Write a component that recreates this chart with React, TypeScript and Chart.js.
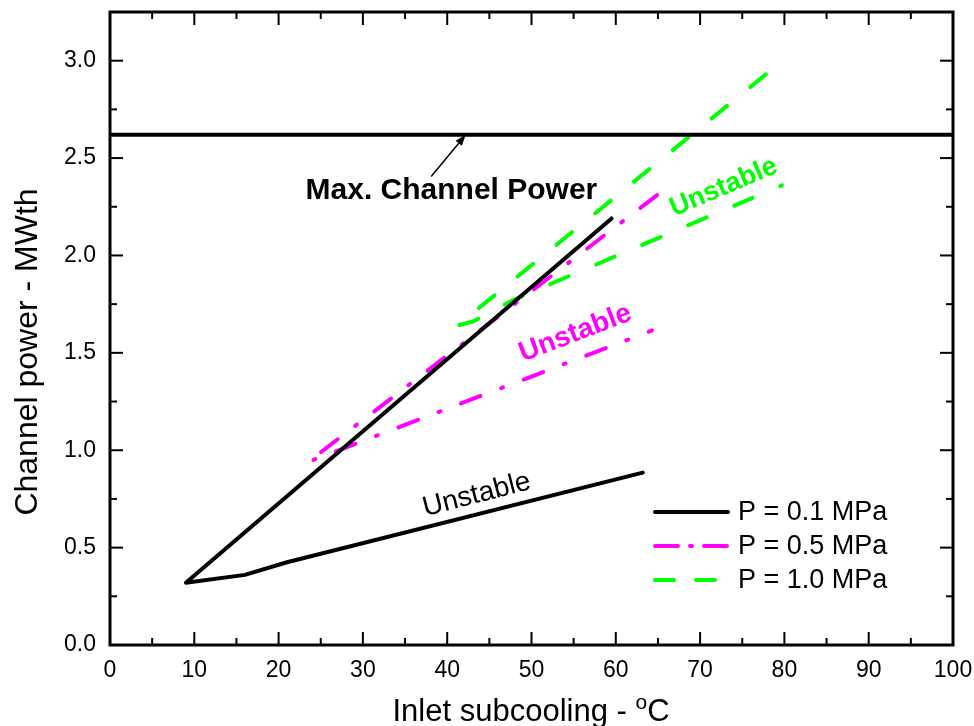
import { useEffect, useRef } from "react";
import { Chart, registerables } from "chart.js";

Chart.register(...registerables);

const FONT = '"Liberation Sans", Arial, Helvetica, sans-serif';

const BLACK = "#000000";
const MAGENTA = "#ff00ff";
const GREEN = "#00ff00";

// Maximum channel power limit (horizontal line)
const maxPowerX = [0, 100];
const maxPowerY = [2.62, 2.62];

// Stability boundaries, inlet subcooling (°C) vs channel power (MWth)
const p01X = [59.5, 9, 16, 21, 63.2];
const p01Y = [2.19, 0.32, 0.36, 0.425, 0.885];

const p05X = [64.9, 23.5, 64.3];
const p05Y = [2.31, 0.94, 1.615];

const p10X = [77.8, 41.2, 43, 48, 79.7];
const p10Y = [2.93, 1.64, 1.66, 1.775, 2.36];

const xMajorTicks = [0, 10, 20, 30, 40, 50, 60, 70, 80, 90, 100];
const xMinorTicks = [5, 15, 25, 35, 45, 55, 65, 75, 85, 95];
const yMajorTicks = [0, 0.5, 1.0, 1.5, 2.0, 2.5, 3.0];
const yMinorTicks = [0.25, 0.75, 1.25, 1.75, 2.25, 2.75];

const legendLabels = ["P = 0.1 MPa", "P = 0.5 MPa", "P = 1.0 MPa"];

// Annotation anchors in data units
const maxPowerLabel = { x: 40.5, y: 2.33, text: "Max. Channel Power" };
const arrowFrom = { x: 38.1, y: 2.405 };
const arrowTo = { x: 42.2, y: 2.62 };
const unstableLabels = [
  { x: 43.5, y: 0.77, angle: -14.5, color: BLACK, weight: "normal", size: 28 },
  { x: 55.2, y: 1.6, angle: -21, color: MAGENTA, weight: "bold", size: 28 },
  { x: 72.8, y: 2.35, angle: -23, color: GREEN, weight: "bold", size: 27 },
];

const toPoints = (xs: number[], ys: number[]) => xs.map((x, i) => ({ x, y: ys[i] }));

const DASH_05 = [21, 22, 2, 22];
const DASH_10 = [20, 30];

const framePlugin = {
  id: "frameTicks",
  afterDatasetsDraw(chart: any) {
    const { ctx, chartArea: a, scales } = chart;
    const xs = scales.x;
    const ys = scales.y;
    ctx.save();
    ctx.strokeStyle = "#000";
    ctx.lineWidth = 2;
    ctx.lineCap = "butt";
    const major = 13;
    const minor = 7;
    const tick = (x1: number, y1: number, x2: number, y2: number) => {
      ctx.beginPath();
      ctx.moveTo(x1, y1);
      ctx.lineTo(x2, y2);
      ctx.stroke();
    };
    xMajorTicks.forEach((v) => {
      const px = xs.getPixelForValue(v);
      tick(px, a.bottom, px, a.bottom - major);
      tick(px, a.top, px, a.top + major);
    });
    xMinorTicks.forEach((v) => {
      const px = xs.getPixelForValue(v);
      tick(px, a.bottom, px, a.bottom - minor);
      tick(px, a.top, px, a.top + minor);
    });
    yMajorTicks.forEach((v) => {
      const py = ys.getPixelForValue(v);
      tick(a.left, py, a.left + major, py);
      tick(a.right, py, a.right - major, py);
    });
    yMinorTicks.forEach((v) => {
      const py = ys.getPixelForValue(v);
      tick(a.left, py, a.left + minor, py);
      tick(a.right, py, a.right - minor, py);
    });
    ctx.lineWidth = 3;
    ctx.strokeRect(a.left, a.top, a.right - a.left, a.bottom - a.top);
    ctx.restore();
  },
};

const annotationPlugin = {
  id: "annotations",
  afterDatasetsDraw(chart: any) {
    const { ctx, chartArea: a, scales } = chart;
    const xs = scales.x;
    const ys = scales.y;
    const px = (v: number) => xs.getPixelForValue(v);
    const py = (v: number) => ys.getPixelForValue(v);
    ctx.save();

    // Max. Channel Power label and arrow
    ctx.fillStyle = "#000";
    ctx.font = `bold 30px ${FONT}`;
    ctx.textAlign = "center";
    ctx.textBaseline = "middle";
    ctx.fillText(maxPowerLabel.text, px(maxPowerLabel.x), py(maxPowerLabel.y));

    const x1 = px(arrowFrom.x);
    const y1 = py(arrowFrom.y);
    const x2 = px(arrowTo.x);
    const y2 = py(arrowTo.y);
    const ang = Math.atan2(y2 - y1, x2 - x1);
    const head = 11;
    const hw = 4;
    ctx.strokeStyle = "#000";
    ctx.lineWidth = 1.5;
    ctx.beginPath();
    ctx.moveTo(x1, y1);
    ctx.lineTo(x2 - Math.cos(ang) * head, y2 - Math.sin(ang) * head);
    ctx.stroke();
    ctx.beginPath();
    ctx.moveTo(x2, y2);
    ctx.lineTo(
      x2 - Math.cos(ang) * head - Math.sin(ang) * hw,
      y2 - Math.sin(ang) * head + Math.cos(ang) * hw
    );
    ctx.lineTo(
      x2 - Math.cos(ang) * head + Math.sin(ang) * hw,
      y2 - Math.sin(ang) * head - Math.cos(ang) * hw
    );
    ctx.closePath();
    ctx.fill();

    // "Unstable" labels along the lower branches
    unstableLabels.forEach((l) => {
      ctx.save();
      ctx.translate(px(l.x), py(l.y));
      ctx.rotate((l.angle * Math.PI) / 180);
      ctx.fillStyle = l.color;
      ctx.font = `${l.weight} ${l.size}px ${FONT}`;
      ctx.textAlign = "center";
      ctx.textBaseline = "middle";
      ctx.fillText("Unstable", 0, 0);
      ctx.restore();
    });

    // Legend
    const styles = [
      { color: BLACK, dash: [] as number[] },
      { color: MAGENTA, dash: [23, 12, 2, 12] },
      { color: GREEN, dash: [19, 22] },
    ];
    const lx1 = a.left + 543;
    const lx2 = a.left + 620;
    const ty = [512, 546, 580];
    legendLabels.forEach((label, i) => {
      const y = ty[i];
      ctx.strokeStyle = styles[i].color;
      ctx.lineWidth = 4;
      ctx.lineCap = "round";
      ctx.setLineDash(styles[i].dash);
      ctx.beginPath();
      ctx.moveTo(lx1 + 2, y);
      ctx.lineTo(lx2 - 2, y);
      ctx.stroke();
      ctx.setLineDash([]);
      ctx.fillStyle = "#000";
      ctx.font = `27px ${FONT}`;
      ctx.textAlign = "left";
      ctx.textBaseline = "middle";
      ctx.fillText(label, lx2 + 8, y + 1);
    });

    ctx.restore();
  },
  afterDraw(chart: any) {
    const { ctx } = chart;
    ctx.save();
    ctx.fillStyle = "#000";
    // Y axis title
    ctx.translate(28, 352);
    ctx.rotate(-Math.PI / 2);
    ctx.font = `32px ${FONT}`;
    ctx.textAlign = "center";
    ctx.textBaseline = "middle";
    ctx.fillText("Channel power - MWth", 0, 0);
    ctx.restore();

    // X axis title with superscript degree mark
    ctx.save();
    ctx.fillStyle = "#000";
    ctx.textBaseline = "alphabetic";
    ctx.textAlign = "left";
    const main = "Inlet subcooling - ";
    ctx.font = `31px ${FONT}`;
    const w1 = ctx.measureText(main).width;
    const wc = ctx.measureText("C").width;
    ctx.font = `21px ${FONT}`;
    const wo = ctx.measureText("o").width;
    const total = w1 + wo + wc;
    let x = 531 - total / 2;
    const base = 721;
    ctx.font = `31px ${FONT}`;
    ctx.fillText(main, x, base);
    x += w1;
    ctx.font = `21px ${FONT}`;
    ctx.fillText("o", x, base - 12);
    x += wo;
    ctx.font = `31px ${FONT}`;
    ctx.fillText("C", x, base);
    ctx.restore();
  },
};

export default function App() {
  const canvasRef = useRef<HTMLCanvasElement | null>(null);

  useEffect(() => {
    const canvas = canvasRef.current;
    if (!canvas) return;
    const common = {
      showLine: true,
      pointRadius: 0,
      pointHoverRadius: 0,
      borderWidth: 4,
      borderCapStyle: "round",
      borderJoinStyle: "round",
      tension: 0,
      fill: false,
    };
    const chart = new Chart(canvas, {
      type: "scatter",
      data: {
        datasets: [
          {
            ...common,
            label: "Max. Channel Power",
            data: toPoints(maxPowerX, maxPowerY),
            borderColor: BLACK,
            borderCapStyle: "butt",
          },
          {
            ...common,
            label: legendLabels[0],
            data: toPoints(p01X, p01Y),
            borderColor: BLACK,
          },
          {
            ...common,
            label: legendLabels[1],
            data: toPoints(p05X, p05Y),
            borderColor: MAGENTA,
            borderDash: DASH_05,
          },
          {
            ...common,
            label: legendLabels[2],
            data: toPoints(p10X, p10Y),
            borderColor: GREEN,
            borderDash: DASH_10,
          },
        ],
      } as any,
      options: {
        responsive: false,
        animation: false,
        devicePixelRatio: 1,
        layout: { padding: { top: 12, right: 21, left: 0, bottom: 0 } },
        plugins: {
          legend: { display: false },
          tooltip: { enabled: false },
        },
        scales: {
          x: {
            type: "linear",
            min: 0,
            max: 100,
            grid: { display: false, drawTicks: false },
            border: { display: false },
            ticks: {
              stepSize: 10,
              padding: 12,
              color: "#000",
              font: { family: FONT, size: 23 },
              maxRotation: 0,
            },
            afterFit: (s: any) => {
              s.height = 81;
              s.paddingLeft = 0;
              s.paddingRight = 0;
            },
          },
          y: {
            type: "linear",
            min: 0,
            max: 3.25,
            grid: { display: false, drawTicks: false },
            border: { display: false },
            ticks: {
              stepSize: 0.5,
              padding: 14,
              color: "#000",
              font: { family: FONT, size: 23 },
              callback: (v: any) => {
                const n = Number(v);
                return Math.abs(n * 2 - Math.round(n * 2)) < 1e-6 ? n.toFixed(1) : "";
              },
            },
            afterFit: (s: any) => {
              s.width = 110;
              s.paddingTop = 0;
              s.paddingBottom = 0;
            },
          },
        },
      } as any,
      plugins: [framePlugin, annotationPlugin],
    });
    return () => chart.destroy();
  }, []);

  return (
    <div style={{ position: "absolute", left: 0, top: 0, width: 974, height: 726, background: "#fff" }}>
      <canvas ref={canvasRef} width={974} height={726} style={{ width: 974, height: 726 }} />
    </div>
  );
}
